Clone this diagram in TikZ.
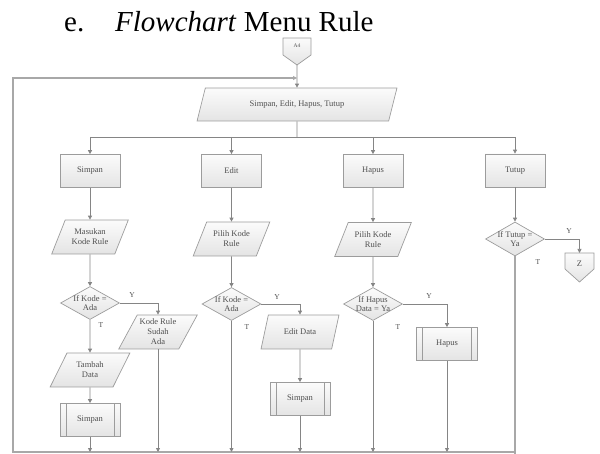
\documentclass[tikz,border=0pt]{standalone}
\usepackage{fontspec}
\setmainfont{Liberation Serif}
\usetikzlibrary{shapes.geometric,arrows.meta}

\definecolor{edge}{HTML}{858585}
\definecolor{ink}{HTML}{505050}
\definecolor{outline}{HTML}{9C9C9C}
\definecolor{framec}{HTML}{A8A8A8}
\definecolor{fillhi}{HTML}{FBFBFB}
\definecolor{filllo}{HTML}{E4E4E4}

\tikzset{
  shapebase/.style={draw=outline, line width=0.7pt, top color=fillhi, bottom color=filllo,
    text=ink, font=\fontsize{8.5}{10}\selectfont, align=center, inner sep=0pt},
  procbox/.style={shapebase, rectangle, minimum width=60pt, minimum height=33pt},
  iobox/.style={shapebase, trapezium, trapezium left angle=58, trapezium right angle=122,
    trapezium stretches=true, minimum width=77pt, minimum height=34pt},
  decide/.style={shapebase, diamond, minimum width=59pt, minimum height=33pt},
  dtext/.style={text=ink, font=\fontsize{8.5}{9.5}\selectfont, align=center, inner sep=0pt},
  predef/.style={procbox, path picture={
      \draw[outline, line width=0.7pt]
        ([xshift=6pt]path picture bounding box.north west) -- ([xshift=6pt]path picture bounding box.south west)
        ([xshift=-6pt]path picture bounding box.north east) -- ([xshift=-6pt]path picture bounding box.south east);}},
  offpage/.style={draw=outline, line width=0.7pt, top color=fillhi, bottom color=filllo},
  plain/.style={draw=edge, line width=0.75pt},
  conn/.style={plain, -{Triangle[length=4pt,width=4pt]}},
  framel/.style={draw=framec, line width=1.2pt},
  yt/.style={text=ink, font=\fontsize{7.5}{8}\selectfont, inner sep=0pt},
  titlefont/.style={font=\fontsize{29}{34}\selectfont, inner sep=0pt, anchor=base west}
}

\begin{document}
\begin{tikzpicture}[x=1pt,y=-1pt]
\useasboundingbox (0,0) rectangle (600,454);

% heading
\node[titlefont] (enum) at (64,32) {e.};
\node[titlefont] (title) at (115,32) {\textit{Flowchart} Menu Rule};

% entry connector
\draw[offpage] (283,38) -- (311,38) -- (311,55) -- (297,65) -- (283,55) -- cycle;
\node[dtext, font=\fontsize{5.5}{6}\selectfont] (a4) at (297,46) {A4};
\coordinate (a4tip) at (297,65);
\coordinate (join) at (297,78);

% menu choice
\node[iobox, minimum width=200pt, minimum height=33pt, trapezium left angle=61, trapezium right angle=119]
  (menu) at (297,104.5) {Simpan, Edit, Hapus, Tutup};

% the four menu branches
\node[procbox] (simpan) at (90,171) {Simpan};
\node[procbox] (edit)   at (231.5,171) {Edit};
\node[procbox] (hapus)  at (373,171) {Hapus};
\node[procbox] (tutup)  at (515,170.5) {Tutup};

% Simpan branch
\node[iobox] (masuk) at (90,237) {Masukan\\Kode Rule};
\node[decide, label={[dtext]center:If Kode =\\Ada}] (d1) at (90,303) {};
\node[iobox, minimum width=79pt] (sudah) at (158,332) {Kode Rule\\Sudah\\Ada};
\node[iobox, minimum width=80pt] (tambah) at (90,370) {Tambah\\Data};
\node[predef] (save1) at (90,420) {Simpan};

% Edit branch
\node[iobox] (pilih1) at (231.5,239) {Pilih Kode\\Rule};
\node[decide, label={[dtext]center:If Kode =\\Ada}] (d2) at (231.5,304) {};
\node[iobox, minimum width=78pt] (editdata) at (300,332) {Edit Data};
\node[predef] (save2) at (300,399) {Simpan};

% Hapus branch
\node[iobox] (pilih2) at (373,239.5) {Pilih Kode\\Rule};
\node[decide, label={[dtext]center:If Hapus\\Data = Ya}] (d3) at (373,304) {};
\node[predef, minimum width=61pt] (del) at (447,344) {Hapus};

% Tutup branch
\node[decide, minimum height=34pt, label={[dtext]center:If Tutup =\\Ya}] (d4) at (515,239) {};
\draw[offpage] (565,253) -- (594,253) -- (594,269) -- (579.5,282) -- (565,269) -- cycle;
\node[dtext] (z) at (579.5,264) {Z};
\coordinate (ztop) at (579.5,253);

% return loop
\coordinate (bus) at (297,137);
\coordinate (bot) at (297,452);
\coordinate (botL) at (13,452);
\coordinate (topL) at (13,78);
\coordinate (botR) at (515,452);
\coordinate (tend) at (515,456);
\draw[framel] (d4.south) -- (tend);
\draw[framel, -{Triangle[length=4pt,width=4pt]}, line join=miter] (botR) -- (botL) -- (topL) -- (join);

% entry and menu flow
\draw[conn] (a4tip) -- (menu.north);
\draw[plain] (menu.south) -- (bus);
\draw[plain] (simpan.north |- bus) -- (tutup.north |- bus);
\foreach \n in {simpan,edit,hapus,tutup}
  \draw[conn] (\n.north |- bus) -- (\n.north);

% Simpan flow
\draw[conn] (simpan) -- (masuk);
\draw[conn] (masuk) -- (d1);
\draw[conn] (d1.east) -| (sudah.north);
\draw[conn] (d1.south) -- (tambah.north);
\draw[conn] (tambah) -- (save1);
\draw[conn] (save1.south) -- (save1.south |- bot);
\draw[conn] (sudah.south) -- (sudah.south |- bot);
\node[yt] (y1) at (132,295) {Y};
\node[yt] (t1) at (101,325) {T};

% Edit flow
\draw[conn] (edit) -- (pilih1);
\draw[conn] (pilih1) -- (d2);
\draw[conn] (d2.east) -| (editdata.north);
\draw[conn] (d2.south) -- (d2.south |- bot);
\draw[conn] (editdata) -- (save2);
\draw[conn] (save2.south) -- (save2.south |- bot);
\node[yt] (y2) at (277,297) {Y};
\node[yt] (t2) at (247,327) {T};

% Hapus flow
\draw[conn] (hapus) -- (pilih2);
\draw[conn] (pilih2) -- (d3);
\draw[conn] (d3.east) -| (del.north);
\draw[conn] (d3.south) -- (d3.south |- bot);
\draw[conn] (del.south) -- (del.south |- bot);
\node[yt] (y3) at (429,296) {Y};
\node[yt] (t3) at (398,327) {T};

% Tutup flow
\draw[conn] (tutup) -- (d4);
\draw[conn] (d4.east) -| (ztop);
\node[yt] (y4) at (569,231) {Y};
\node[yt] (t4) at (538,262) {T};
\end{tikzpicture}
\end{document}
